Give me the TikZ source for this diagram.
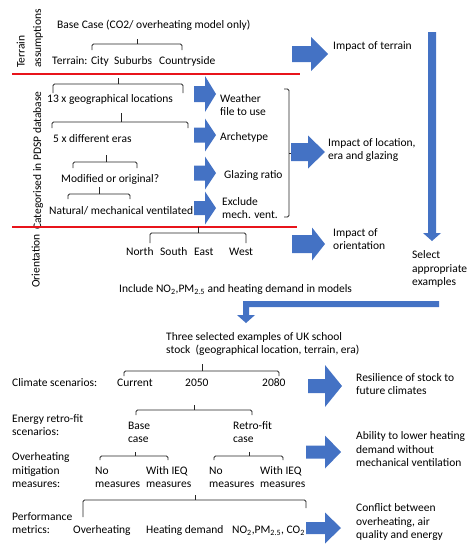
\documentclass[tikz,border=0pt]{standalone}
\usepackage{fontspec}
\setmainfont{Carlito}
\definecolor{arrowblue}{HTML}{4472C4}
\definecolor{redln}{HTML}{E8141B}
\tikzset{
  txt/.style={font=\fontsize{11.5}{13.5}\selectfont, inner sep=0pt, anchor=base west, align=left},
  rot/.style={font=\fontsize{11.5}{13.5}\selectfont, inner sep=0pt, anchor=base west, rotate=90},
  brc/.style={draw=black!85, line width=0.8pt, rounded corners=1.5pt},
  brcs/.style={draw=black!85, line width=0.8pt},
  redline/.style={draw=redln, line width=1.7pt},
}
\newcommand{\tbrace}[6]{% x1, xm, x2, y, ytop, ybot
  \draw[brc] (#1,#6) -- (#1,#4) -- (#3,#4) -- (#3,#6);
  \draw[brcs] (#2,#4) -- (#2,#5);}
\newcommand{\rarrow}[6]{% x1, xhead, xtip, y, shaft half, head half
  \fill[arrowblue] (#1,{#4-#5}) -- (#2,{#4-#5}) -- (#2,{#4-#6}) -- (#3,#4)
    -- (#2,{#4+#6}) -- (#2,{#4+#5}) -- (#1,{#4+#5}) -- cycle;}
\begin{document}
\begin{tikzpicture}[x=1pt,y=-1pt]
\useasboundingbox (0,0) rectangle (474,552);

% side labels
\node[rot] (tr1) at (24.5,68) {Terrain};
\node[rot] (tr2) at (41,68) {assumptions};
\node[rot] (cat) at (41,230) {Categorised in PDSP database};
\node[rot] (ori) at (39.5,288) {Orientation};

% red separators
\draw[redline] (12,74) -- (300,74);
\draw[redline] (12,227) -- (297,227);

% terrain section
\node[txt] (base) at (57,28.7) {Base Case (CO2/ overheating model only)};
\tbrace{92}{137}{182}{44}{39}{50}
\node[txt] (city) at (52,64.7) {Terrain: City};
\node[txt] (sub) at (114,64.7) {Suburbs};
\node[txt] (cty) at (159,64.7) {Countryside};

% PDSP section
\tbrace{53}{118}{183}{84}{78}{93}
\node[txt] (geo) at (47,102.7) {13 x geographical locations};
\tbrace{52}{121}{188}{122}{113}{128}
\node[txt] (era) at (53,142.7) {5 x different eras};
\tbrace{73}{106}{137}{162}{155}{168}
\node[txt] (mod) at (61,182.7) {Modified or original?};
\tbrace{68}{99}{130}{194}{187}{199}
\node[txt] (nat) at (49,214.7) {Natural/ mechanical ventilated};

\rarrow{194}{205}{216}{94}{8}{18}
\rarrow{194}{205}{216}{135}{7.5}{16.5}
\rarrow{194}{205}{216}{173}{7.5}{16.5}
\rarrow{194}{205}{216}{208}{7}{16.5}
\node[txt] (wea) at (220,115.7) {Weather\\file to use};
\node[txt] (arc) at (220,140.7) {Archetype};
\node[txt] (gla) at (224,178.7) {Glazing ratio};
\node[txt] (exc) at (222,218.7) {Exclude\\mech. vent.};

\draw[brc] (284,89) -- (289,89) -- (289,217) -- (284,217);
\draw[brcs] (289,153) -- (292,153);

% orientation
\tbrace{150}{198}{246}{233}{227}{243}
\node[txt] (n) at (126,255.7) {North};
\node[txt] (s) at (160,255.7) {South};
\node[txt] (e) at (194,255.7) {East};
\node[txt] (w) at (229,255.7) {West};

% right arrows upper
\rarrow{292}{311}{328}{54}{8}{17}
\node[txt] (it) at (333,49.7) {Impact of terrain};
\rarrow{291}{308}{325}{152}{9}{16.5}
\node[txt] (il) at (328,159.7) {Impact of location,\\era and glazing};
\rarrow{292}{312}{325}{244}{9}{16.5}
\node[txt] (io) at (333,249.7) {Impact of\\orientation};

% long vertical arrow
\fill[arrowblue] (428,32) -- (436,32) -- (436,233) -- (441,233) -- (432,241) -- (423,233) -- (428,233) -- cycle;
\node[txt] (sel) at (412,285.7) {Select\\appropriate\\examples};

% elbow arrow
\fill[arrowblue] (439,301) -- (439,307) -- (249,307) -- (249,315) -- (255,315) -- (246,323) -- (237,315) -- (243,315) -- (243,301) -- cycle;
\node[txt] (inc) at (119,292.7) {Include NO\textsubscript{2},PM\textsubscript{2.5} and heating demand in models};

% lower section
\node[txt] (three) at (166,353.7) {Three selected examples of UK school\\stock\ \ (geographical location, terrain, era)};
\tbrace{124}{202}{279}{371}{364}{376}
\node[txt] (clim) at (12,386.7) {Climate scenarios:};
\node[txt] (cur) at (117,386.7) {Current};
\node[txt] (y50) at (185,386.7) {2050};
\node[txt] (y80) at (262,386.7) {2080};
\rarrow{308}{325}{342}{386}{7}{21}
\node[txt] (res) at (356,394.7) {Resilience of stock to\\future climates};

\tbrace{136}{194}{252}{410}{405}{415}
\node[txt] (ers) at (12,435.7) {Energy retro-fit\\scenarios:};
\node[txt] (bc) at (128,442.7) {Base\\case};
\node[txt] (rc) at (233,442.7) {Retro-fit\\case};

\tbrace{100}{135}{168}{456}{452}{460}
\tbrace{214}{249}{283}{456}{452}{460}
\node[txt] (omm) at (12,487.7) {Overheating\\mitigation\\measures:};
\node[txt] (no1) at (95,487.7) {No\\measures};
\node[txt] (ieq1) at (146,487.7) {With IEQ\\measures};
\node[txt] (no2) at (209,487.7) {No\\measures};
\node[txt] (ieq2) at (260,487.7) {With IEQ\\measures};
\rarrow{306}{325}{341}{452}{6.5}{16.5}
\node[txt] (abl) at (356,466.7) {Ability to lower heating\\demand without\\mechanical ventilation};

\draw[brc] (83,517) -- (83,500) -- (306,500) -- (306,508);
\draw[brcs] (195,500) -- (195,495);
\node[txt] (pm) at (12,533.7) {Performance\\metrics:};
\node[txt] (ovh) at (73,533.7) {Overheating};
\node[txt] (hd) at (146,533.7) {Heating demand};
\node[txt] (pol) at (232,533.7) {NO\textsubscript{2},PM\textsubscript{2.5}, CO\textsubscript{2}};
\rarrow{306}{325}{341}{528}{6}{15.5}
\node[txt] (con) at (356,538.7) {Conflict between\\overheating, air\\quality and energy};
\end{tikzpicture}
\end{document}
